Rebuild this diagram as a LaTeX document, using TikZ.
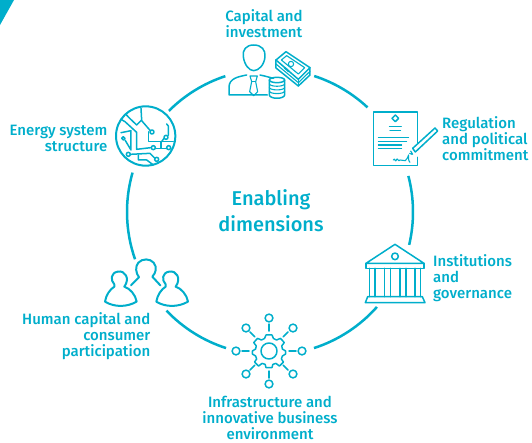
\documentclass[tikz,border=0pt]{standalone}
\usepackage{fontspec}
\setmainfont{Fira Sans Medium}
\definecolor{brand}{HTML}{00AECB}
\tikzset{
  x=1pt,y=-1pt,
  ring/.style={draw=brand,line width=2.5pt},
  ink/.style={draw=brand,line width=1.5pt,line join=round,line cap=round},
  thin ink/.style={draw=brand,line width=1.1pt,line join=round,line cap=round},
  bold ink/.style={draw=brand,line width=2pt,line join=round,line cap=round},
  lbl/.style={text=brand,font=\fontsize{15}{16}\selectfont,inner sep=0pt,align=center},
  zoomed/.style={x=0.3333pt,y=-0.3333pt}
}
\begin{document}
\begin{tikzpicture}
\useasboundingbox (0,0) rectangle (532,442);
\fill[brand] (0,0) -- (14,0) -- (0,25) -- cycle;
% ring
\coordinate (c) at (270,212);
\foreach \a/\b in {135/108.2,72/47,14.6/-13.3,-41.6/-72.1,-107.9/-136.4,-160.7/-196}{
  \draw[ring] ([shift={(\a:143pt)}]c) arc[start angle=\a,end angle=\b,radius=143pt];
}
% labels
\node[lbl] (cap) at (264,23.5) {Capital and\\investment};
\node[lbl,align=right,anchor=east] (ene) at (107.5,138) {Energy system\\structure};
\node[lbl,align=left,anchor=west] (reg) at (442,139) {Regulation\\and political\\commitment};
\node[lbl,align=left,anchor=west] (ins) at (433,278.5) {Institutions\\and\\governance};
\node[lbl,align=right,anchor=east] (hum) at (150.5,336) {Human capital and\\consumer\\participation};
\node[lbl] (inf) at (270,418) {Infrastructure and\\innovative business\\environment};
\node[lbl,font=\fontsize{20}{26}\selectfont] (ena) at (271,211) {Enabling\\dimensions};
% capital icon
\begin{scope}[shift={(210,0)},zoomed]
  \draw[ink] (131,135) .. controls (108,135) and (97,150) .. (100,170) .. controls (103,195) and (118,212) .. (131,212) .. controls (146,212) and (163,195) .. (165,170) .. controls (167,150) and (155,135) .. (131,135);
  \draw[ink] (110,225) .. controls (85,230) and (57,235) .. (57,262) -- (57,285) -- (172,285);
  \draw[ink] (150,225) .. controls (165,228) and (178,232) .. (190,235);
  \draw[thin ink] (120,228) -- (142,228) -- (137,245) -- (143,275) -- (131,287) -- (119,275) -- (125,245) -- cycle;
  \draw[thin ink] (125,245) -- (137,245);
  \draw[ink] (201,240) ellipse[x radius=23,y radius=8];
  \draw[ink] (178,240) -- (178,285) .. controls (180,298) and (222,298) .. (224,285) -- (224,240);
  \foreach \y in {252,263,274}{\draw[thin ink] (178,\y) .. controls (182,\y+9) and (220,\y+9) .. (224,\y);}
  \draw[ink] (228,155) -- (300,203) -- (265,238) -- (198,180) -- cycle;
  \draw[ink] (198,180) -- (198,204) -- (265,258) -- (300,225) -- (300,203);
  \draw[thin ink] (198,192) -- (265,248) -- (300,214);
  \draw[thin ink] (265,238) -- (265,258);
  \draw[thin ink] (214,180) -- (230,167) -- (284,203) -- (265,222) -- cycle;
  \draw[bold ink] (224,203) -- (236,214);
  \draw[thin ink] (243,192) circle[radius=8];
\end{scope}
% regulation icon
\begin{scope}[shift={(360,100)},zoomed]
  \draw[ink] (172,128) -- (172,36) -- (40,36) -- (40,197) -- (172,197) -- (172,172);
  \draw[ink] (106,45) -- (116,55) -- (106,65) -- (96,55) -- cycle;
  \draw[thin ink] (88,80) -- (124,80) (90,91) -- (122,91);
  \draw[thin ink] (55,113) -- (146,113) (55,124) -- (140,124) (55,135) -- (125,135) (55,146) -- (125,146);
  \draw[thin ink] (100,180) .. controls (104,170) and (106,192) .. (110,178) .. controls (112,172) and (116,188) .. (120,180) -- (136,182) .. controls (142,180) and (142,170) .. (146,165) .. controls (145,175) and (146,185) .. (150,187);
  \draw[ink] (158,145) -- (225,84) -- (233,93) -- (166,156) -- cycle;
  \draw[thin ink] (149,160) -- (155,163) (152,153) -- (158,163);
\end{scope}
% institution icon
\begin{scope}[shift={(350,235)},zoomed]
  \draw[ink] (48,85) -- (135,28) -- (222,85) -- cycle;
  \draw[ink] (135,64) circle[radius=10];
  \draw[ink] (48,85) -- (48,100) -- (222,100) -- (222,85);
  \foreach \p/\q in {58/75,103/122,150/168,195/212}{
    \draw[ink] (\p,100) -- (\p,185) (\q,100) -- (\q,185);
  }
  \draw[ink] (53,185) -- (217,185) -- (225,203) -- (46,203) -- cycle;
\end{scope}
% gear icon
\begin{scope}[shift={(269,351)}]
  \draw[ink] (0,0) circle[radius=8];
  \draw[ink] plot[smooth cycle,tension=0.12] coordinates {
    (-3.0,-16) (3.0,-16) (4.4,-12.6) (7.6,-11.0) (11.4,-12.6) (15.2,-8.4) (12.8,-5.2) (13.4,-2) (16.6,0) (16.6,3) (13.4,5) (12.4,8) (14.4,11) (10.4,15) (7,12.4) (3.8,13.4) (3,16.6) (-3,16.6) (-3.8,13.4) (-7,12.4) (-10.4,15) (-14.4,11) (-12.4,8) (-13.4,5) (-16.6,3) (-16.6,0) (-13.4,-2) (-12.8,-5.2) (-15.2,-8.4) (-11.4,-12.6) (-7.6,-11) (-4.4,-12.6)};
  \foreach \a in {0,45,...,315}{
    \draw[ink] (\a:20pt) -- (\a:27pt);
  }
  \foreach \px/\py in {0/-33,24/-23,33/0,24/23,0/33,-23/23,-33/0,-23/-23}{
    \draw[ink] (\px,\py) circle[radius=3.9];
  }
\end{scope}
% people icon
\begin{scope}[shift={(95,250)},zoomed]
  \draw[bold ink]
    (108,106) -- (132,82) .. controls (122,68) and (120,50) .. (130,38) .. controls (142,25) and (165,25) .. (176,38) .. controls (187,52) and (183,68) .. (172,80) -- (196,106);
  \draw[bold ink]
    (58,103) .. controls (45,90) and (48,68) .. (68,65) .. controls (90,60) and (106,85) .. (88,110) .. controls (105,115) and (122,135) .. (125,155) .. controls (95,172) and (58,172) .. (30,155) .. controls (33,135) and (45,118) .. (58,110) -- (58,103);
  \draw[bold ink]
    (212,103) .. controls (199,90) and (202,68) .. (222,65) .. controls (244,60) and (260,85) .. (242,110) .. controls (259,115) and (276,135) .. (279,155) .. controls (249,172) and (212,172) .. (184,155) .. controls (187,135) and (199,118) .. (212,110) -- (212,103);
\end{scope}
% circuit icon
\begin{scope}[shift={(105,100)},zoomed]
  \draw[bold ink] (122,108) circle[radius=89];
  \draw[ink] (48,58) -- (60,65) -- (95,97) -- (95,148) -- (137,143);
  \draw[ink] (145,143) circle[radius=6];
  \draw[ink] (62,42) -- (72,53) -- (95,75) -- (110,60) -- (108,25);
  \draw[ink] (110,62) -- (136,92);
  \draw[ink] (141,96) circle[radius=6];
  \draw[ink] (48,98) -- (78,92) -- (78,150) -- (60,120);
  \draw[ink] (55,115) circle[radius=5];
  \draw[ink] (76,163) -- (135,160) -- (150,175);
  \draw[ink] (70,163) circle[radius=6];
  \draw[ink] (155,178) circle[radius=6];
  \draw[ink] (100,165) -- (100,180) -- (125,180) -- (145,195);
  \draw[ink] (130,95) -- (130,125) -- (205,125);
  \draw[ink] (168,125) -- (168,145);
  \draw[ink] (152,145) -- (185,145);
  \draw[ink] (191,143) circle[radius=6];
  \draw[ink] (185,72) -- (190,78) -- (190,106);
  \draw[ink] (183,112) circle[radius=6];
  \draw[ink] (177,115) -- (170,125);
\end{scope}
\end{tikzpicture}
\end{document}
